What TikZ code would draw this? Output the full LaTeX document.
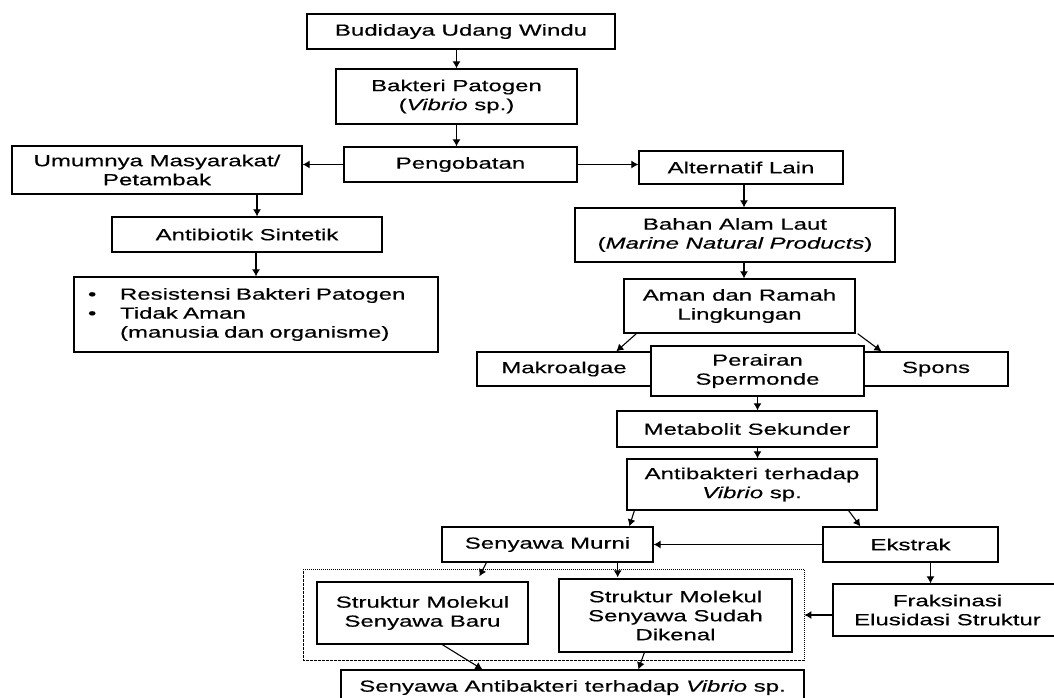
\documentclass[tikz,border=0pt]{standalone}
\usepackage{fontspec}
\setmainfont{Liberation Sans}[FakeStretch=1.5,FakeBold=0.4]
\usetikzlibrary{arrows.meta}
\tikzset{
  kotak/.style={draw, line width=1.3pt, fill=white, align=center, inner sep=2pt,
    font=\fontsize{16}{19}\selectfont},
  panah/.style={line width=1.1pt, -{Latex[length=7pt,width=8pt]}},
  kelompok/.style={draw, line width=0.8pt, dash pattern=on 1.5pt off 1pt on 0.5pt off 1pt}
}
\begin{document}
\begin{tikzpicture}[x=1pt,y=-1pt]
\useasboundingbox (0,0) rectangle (1054,698);
\node[kotak,minimum width=308pt,minimum height=35pt] (budidaya) at (461,31.5) {Budidaya Udang Windu};
\node[kotak,minimum width=241pt,minimum height=55pt] (bakteri) at (456.5,96.5) {Bakteri Patogen\\(\textit{Vibrio} sp.)};
\node[kotak,minimum width=233pt,minimum height=35pt] (obat) at (460.5,164.5) {Pengobatan};
\node[kotak,minimum width=290pt,minimum height=48pt] (umum) at (157,170) {Umumnya Masyarakat/\\Petambak};
\node[kotak,minimum width=270pt,minimum height=35pt] (sintetik) at (247,234.5) {Antibiotik Sintetik};
\node[kotak,align=left,text width=336pt,inner xsep=14pt,minimum height=75pt] (resisten) at (256,314.5)
  {\makebox[32pt][l]{\textbullet}Resistensi Bakteri Patogen\\
   \makebox[32pt][l]{\textbullet}Tidak Aman\\
   \hspace*{32pt}(manusia dan organisme)};
\node[kotak,minimum width=204pt,minimum height=33pt] (alternatif) at (741,167.5) {Alternatif Lain};
\node[kotak,minimum width=320pt,minimum height=54pt] (bahan) at (735,235) {Bahan Alam Laut\\(\textit{Marine Natural Products})};
\node[kotak,minimum width=231pt,minimum height=54pt] (aman) at (739.5,306) {Aman dan Ramah\\Lingkungan};
\node[kotak,minimum width=174pt,minimum height=34pt] (makro) at (564,369) {Makroalgae};
\node[kotak,minimum width=144pt,minimum height=34pt] (spons) at (936,369) {Spons};
\node[kotak,minimum width=213pt,minimum height=50pt] (perairan) at (757.5,371) {Perairan\\Spermonde};
\node[kotak,minimum width=260pt,minimum height=36pt] (metabolit) at (747,429) {Metabolit Sekunder};
\node[kotak,minimum width=250pt,minimum height=51pt] (antivibrio) at (752,484.5) {Antibakteri terhadap\\\textit{Vibrio} sp.};
\node[kotak,minimum width=211pt,minimum height=35pt] (murni) at (547.5,544.5) {Senyawa Murni};
\node[kotak,minimum width=175pt,minimum height=35pt] (ekstrak) at (910.5,544.5) {Ekstrak};
\node[kotak,minimum width=229pt,minimum height=52pt] (fraksi) at (947.5,610) {Fraksinasi\\Elusidasi Struktur};
\node[kelompok,minimum width=501pt,minimum height=91pt] (struktur) at (553.5,614.5) {};
\node[kotak,minimum width=211pt,minimum height=62pt] (baru) at (422.5,613) {Struktur Molekul\\Senyawa Baru};
\node[kotak,minimum width=233pt,minimum height=73pt] (dikenal) at (675.5,615.5) {Struktur Molekul\\Senyawa Sudah\\Dikenal};
\node[kotak,minimum width=463pt,minimum height=35pt] (hasil) at (572.5,687.5) {Senyawa Antibakteri terhadap \textit{Vibrio} sp.};
\draw[panah] (bakteri.north |- budidaya.south) -- (bakteri.north);
\draw[panah] (bakteri.south) -- (bakteri.south |- obat.north);
\draw[panah] (obat.west) -- (obat.west -| umum.east);
\draw[panah] (obat.east) -- (obat.east -| alternatif.west);
\draw[panah] ([xshift=10pt]sintetik.north |- umum.south) -- ([xshift=10pt]sintetik.north);
\draw[panah] (resisten.north |- sintetik.south) -- (resisten.north);
\draw[panah] ([xshift=3pt]alternatif.south) -- ([xshift=3pt]alternatif.south |- bahan.north);
\draw[panah] ([xshift=3pt]alternatif.south |- bahan.south) -- ([xshift=3pt]alternatif.south |- aman.north);
\draw[panah] ([xshift=13pt]aman.south west) -- ([xshift=140pt]makro.north west);
\draw[panah] ([xshift=2pt]aman.south east) -- ([xshift=18pt]spons.north west);
\draw[panah] (perairan.south) -- (perairan.south |- metabolit.north);
\draw[panah] (perairan.south |- metabolit.south) -- (perairan.south |- antivibrio.north);
\draw[panah] ([xshift=8pt]antivibrio.south west) -- ([xshift=188pt]murni.north west);
\draw[panah] ([xshift=-29pt]antivibrio.south east) -- ([xshift=38pt]ekstrak.north west);
\draw[panah] (ekstrak.west) -- (murni.east);
\draw[panah] ([xshift=20pt]ekstrak.south) -- ([xshift=20pt]ekstrak.south |- fraksi.north);
\draw[panah] ([yshift=-5pt]fraksi.west) -- ([yshift=-5pt]fraksi.west -| struktur.east);
\draw[panah] ([xshift=45pt]murni.south west) -- ([xshift=163pt,yshift=5pt]baru.north west);
\draw[panah] ([xshift=-36pt]murni.south east) -- ([xshift=-36pt,yshift=1pt]murni.south east |- dikenal.north);
\draw[panah] ([xshift=126pt]baru.south west) -- ([xshift=142pt]hasil.north west);
\draw[panah] ([xshift=86pt]dikenal.south west) -- ([xshift=298pt]hasil.north west);
\end{tikzpicture}
\end{document}
